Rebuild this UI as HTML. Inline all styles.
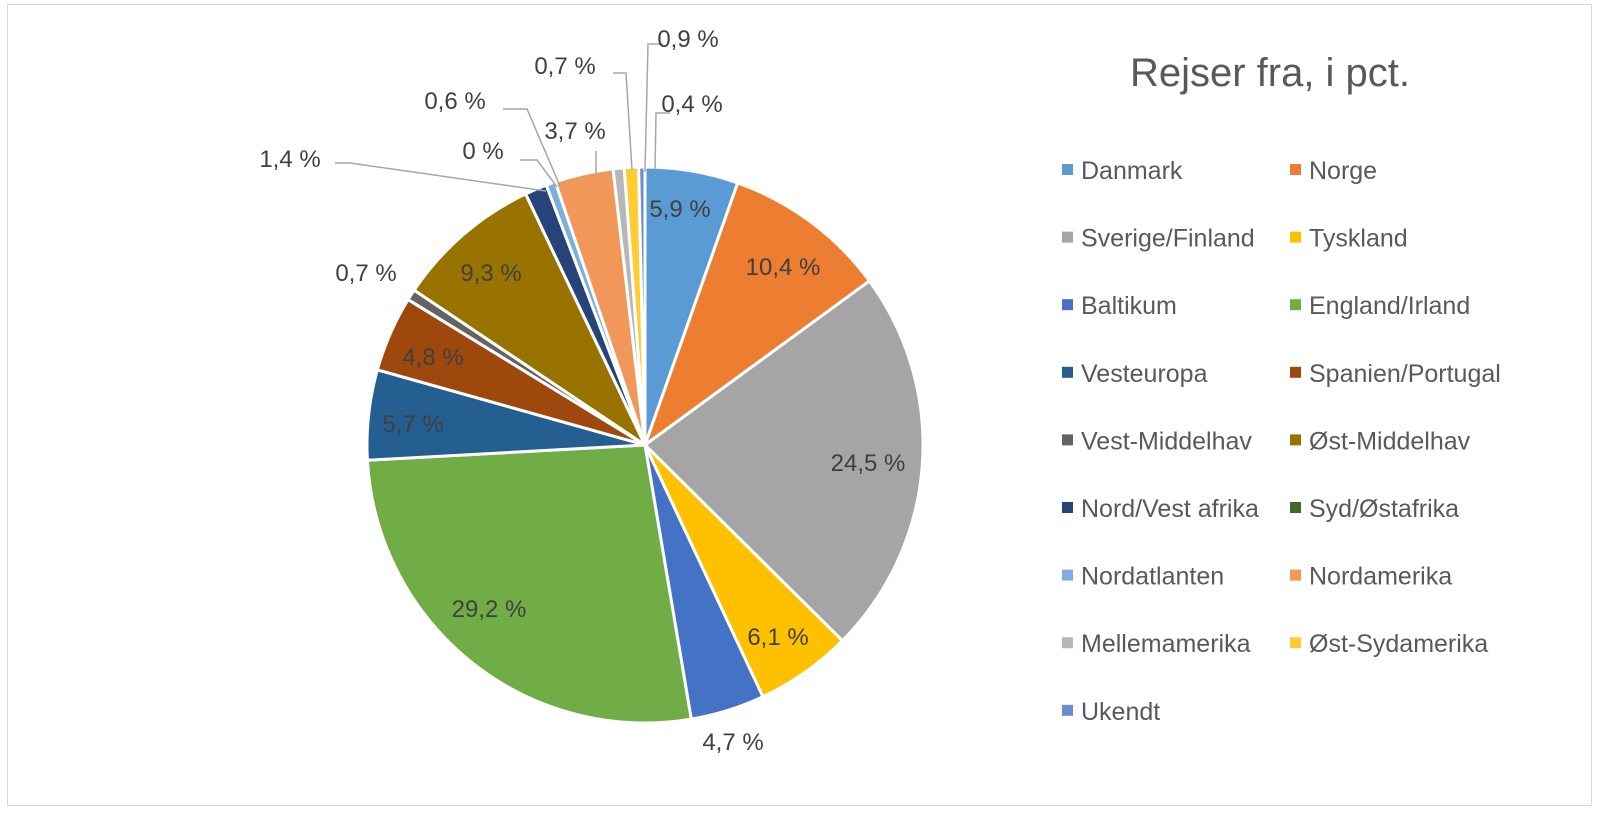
<!DOCTYPE html>
<html><head><meta charset="utf-8">
<style>
html,body{margin:0;padding:0;background:#fff;}
svg{display:block;}
text{font-family:"Liberation Sans",sans-serif;}
</style></head>
<body>
<svg id="s" width="1600" height="821" viewBox="0 0 1600 821" xmlns="http://www.w3.org/2000/svg">
<rect x="0" y="0" width="1600" height="821" fill="#fff"/>
<rect x="7.5" y="4.5" width="1584" height="801" fill="none" stroke="#d9d9d9" stroke-width="1"/>
<g id="pie"></g>
<g fill="none" stroke="#a6a6a6" stroke-width="1.5">
<polyline points="335,163 350,163 546,191"/>
<polyline points="520,160 537,160 557,187"/>
<polyline points="503,109 527,109 560,186"/>
<polyline points="596,151 596,176"/>
<polyline points="613,73 626,73 632,170"/>
<polyline points="663,44 648,44 645,172"/>
<polyline points="670,113 656,113 655,170"/>
</g>
<g font-size="24" fill="#404040" text-anchor="middle">
<text x="680" y="217">5,9 %</text>
<text x="783" y="275">10,4 %</text>
<text x="868" y="471">24,5 %</text>
<text x="778" y="645">6,1 %</text>
<text x="733" y="750">4,7 %</text>
<text x="489" y="617">29,2 %</text>
<text x="413" y="432">5,7 %</text>
<text x="433" y="365">4,8 %</text>
<text x="366" y="281">0,7 %</text>
<text x="491" y="281">9,3 %</text>
<text x="290" y="167">1,4 %</text>
<text x="483" y="159">0 %</text>
<text x="455" y="109">0,6 %</text>
<text x="575" y="139">3,7 %</text>
<text x="565" y="74">0,7 %</text>
<text x="688" y="47">0,9 %</text>
<text x="692" y="112">0,4 %</text>
</g>
<text x="1270" y="86" font-size="40" fill="#595959" text-anchor="middle">Rejser fra, i pct.</text>
<g id="leg" font-size="25" fill="#595959"></g>
</svg>
<script>
var d=[["Danmark",5.9,"#5B9BD5"],["Norge",10.4,"#ED7D31"],["Sverige/Finland",24.5,"#A5A5A5"],["Tyskland",6.1,"#FFC000"],["Baltikum",4.7,"#4472C4"],["England/Irland",29.2,"#70AD47"],["Vesteuropa",5.7,"#255E91"],["Spanien/Portugal",4.8,"#9E480E"],["Vest-Middelhav",0.7,"#636363"],["Øst-Middelhav",9.3,"#997300"],["Nord/Vest afrika",1.4,"#264478"],["Syd/Østafrika",0,"#43682B"],["Nordatlanten",0.6,"#7CAFDD"],["Nordamerika",3.7,"#F1975A"],["Mellemamerika",0.7,"#B7B7B7"],["Øst-Sydamerika",0.9,"#FFCD33"],["Ukendt",0.4,"#698ED0"]];
var tot=0;d.forEach(function(e){tot+=e[1];});
var cx=645,cy=445,r=278,a=0,g=document.getElementById("pie"),h="";
d.forEach(function(e){
 var b=a+e[1]/tot*2*Math.PI;
 if(e[1]>0){
 var x1=cx+r*Math.sin(a),y1=cy-r*Math.cos(a),x2=cx+r*Math.sin(b),y2=cy-r*Math.cos(b);
 h+='<path d="M'+cx+','+cy+'L'+x1+','+y1+'A'+r+','+r+' 0 '+((b-a)>Math.PI?1:0)+' 1 '+x2+','+y2+'Z" fill="'+e[2]+'" stroke="#fff" stroke-width="3" stroke-linejoin="round"/>';}
 a=b;});
g.innerHTML=h;
var l="";
d.forEach(function(e,i){
 var col=i%2,row=Math.floor(i/2);
 var x=col?1290:1062,y=170+row*67.6;
 l+='<rect x="'+x+'" y="'+(y-6)+'" width="11" height="11" fill="'+e[2]+'"/>';
 l+='<text x="'+(x+19)+'" y="'+(y+9)+'">'+e[0]+'</text>';});
document.getElementById("leg").innerHTML=l;
</script>
</body></html>
